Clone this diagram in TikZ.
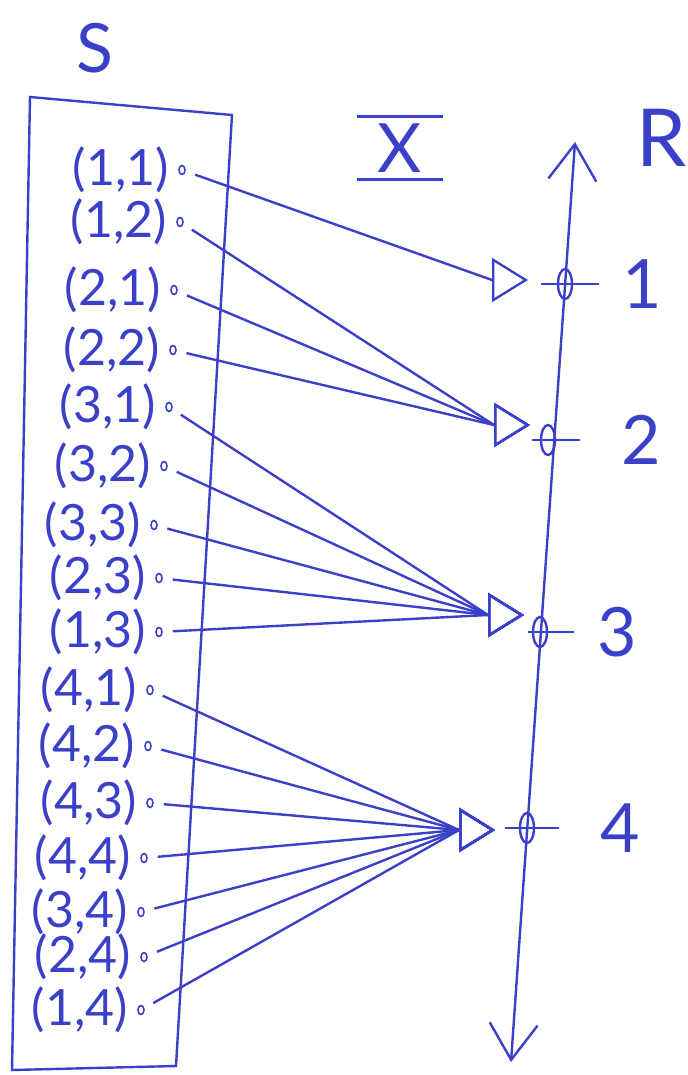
\documentclass[tikz,border=0pt]{standalone}
\usepackage{fontspec}
\setmainfont{Lato}
\usetikzlibrary{arrows.meta, positioning, shapes.geometric}
\definecolor{pen}{RGB}{58,64,200}

\begin{document}
\begin{tikzpicture}[x=0.5pt, y=-0.5pt, line width=1.2pt, color=pen,
  pair/.style={font=\fontsize{25}{28}\selectfont, inner sep=1pt},
  dot/.style={ellipse, draw, line width=0.8pt, inner sep=0pt, minimum width=3pt, minimum height=4.5pt},
  conn/.style={-{Triangle[open, length=18pt, width=22pt]}, shorten <=5pt},
  val/.style={ellipse, draw, inner sep=0pt, minimum width=7pt, minimum height=15pt},
  big/.style={font=\fontsize{34}{40}\selectfont, inner sep=0pt}]
\useasboundingbox (0,0) rectangle (687,1075);

% sample space
\node (S) [big] at (95,48) {S};
\draw (30,97) -- (232,115) -- (176,1066) -- (12,1070) -- cycle;

\node (d11) [dot] at (182,170) {};
\node (d12) [dot] at (180,222) {};
\node (d21) [dot] at (174,290) {};
\node (d22) [dot] at (173,350) {};
\node (d31) [dot] at (169,407) {};
\node (d32) [dot] at (164,466) {};
\node (d33) [dot] at (154,525) {};
\node (d23) [dot] at (159,578) {};
\node (d13) [dot] at (159,632) {};
\node (d41) [dot] at (150,690) {};
\node (d42) [dot] at (148,746) {};
\node (d43) [dot] at (150,803) {};
\node (d44) [dot] at (144,858) {};
\node (d34) [dot] at (141,912) {};
\node (d24) [dot] at (144,957) {};
\node (d14) [dot] at (141,1010) {};

\node (p11) [pair, left=3pt of d11] {(1,1)};
\node (p12) [pair, left=3pt of d12] {(1,2)};
\node (p21) [pair, left=3pt of d21] {(2,1)};
\node (p22) [pair, left=3pt of d22] {(2,2)};
\node (p31) [pair, left=3pt of d31] {(3,1)};
\node (p32) [pair, left=3pt of d32] {(3,2)};
\node (p33) [pair, left=3pt of d33] {(3,3)};
\node (p23) [pair, left=3pt of d23] {(2,3)};
\node (p13) [pair, left=3pt of d13] {(1,3)};
\node (p41) [pair, left=3pt of d41] {(4,1)};
\node (p42) [pair, left=3pt of d42] {(4,2)};
\node (p43) [pair, left=3pt of d43] {(4,3)};
\node (p44) [pair, left=3pt of d44] {(4,4)};
\node (p34) [pair, left=3pt of d34] {(3,4)};
\node (p24) [pair, left=3pt of d24] {(2,4)};
\node (p14) [pair, left=3pt of d14] {(1,4)};

% the map X
\node (X) [big] at (400,148) {X};
\draw ([xshift=-10pt,yshift=3pt]X.north west) -- ([xshift=10pt,yshift=3pt]X.north east);
\draw ([xshift=-10pt,yshift=-3pt]X.south west) -- ([xshift=10pt,yshift=-3pt]X.south east);

% real line
\coordinate (top) at (575,142);
\coordinate (bot) at (511,1062);
\node (R) [big, font=\fontsize{40}{44}\selectfont] at (662,138) {R};
\draw [{Straight Barb[length=18pt, width=24pt]}-{Straight Barb[length=18pt, width=24pt]}] (bot) -- (top);

\node (v1) [val] at (565,284) {};
\node (v2) [val] at (548,440) {};
\node (v3) [val] at (540,632) {};
\node (v4) [val] at (527,828) {};
\draw ([xshift=-12pt]v1.center) -- ([xshift=17pt]v1.center);
\draw ([xshift=-8pt]v2.center) -- ([xshift=16pt]v2.center);
\draw ([xshift=-6pt]v3.center) -- ([xshift=17pt]v3.center);
\draw ([xshift=-11pt]v4.center) -- ([xshift=16pt]v4.center);
\node (n1) [big, right=24pt of v1] {1};
\node (n2) [big, right=32pt of v2] {2};
\node (n3) [big, right=24pt of v3] {3};
\node (n4) [big, right=32pt of v4] {4};

% arrow tips and their bases
\coordinate (t1) at (528,280);
\coordinate (t2) at (530,425);
\coordinate (t3) at (524,615);
\coordinate (t4) at (495,830);
\coordinate (b1) at ([xshift=-18pt]t1);
\coordinate (b2) at ([xshift=-18pt]t2);
\coordinate (b3) at ([xshift=-18pt]t3);
\coordinate (b4) at ([xshift=-18pt]t4);

\draw [conn] (d11) -- (b1) -- (t1);
\draw [conn] (d12) -- (b2) -- (t2);
\draw [conn] (d21) -- (b2) -- (t2);
\draw [conn] (d22) -- (b2) -- (t2);
\draw [conn] (d31) -- (b3) -- (t3);
\draw [conn] (d32) -- (b3) -- (t3);
\draw [conn] (d33) -- (b3) -- (t3);
\draw [conn] (d23) -- (b3) -- (t3);
\draw [conn] (d13) -- (b3) -- (t3);
\draw [conn] (d41) -- (b4) -- (t4);
\draw [conn] (d42) -- (b4) -- (t4);
\draw [conn] (d43) -- (b4) -- (t4);
\draw [conn] (d44) -- (b4) -- (t4);
\draw [conn] (d34) -- (b4) -- (t4);
\draw [conn] (d24) -- (b4) -- (t4);
\draw [conn] (d14) -- (b4) -- (t4);
\end{tikzpicture}
\end{document}
